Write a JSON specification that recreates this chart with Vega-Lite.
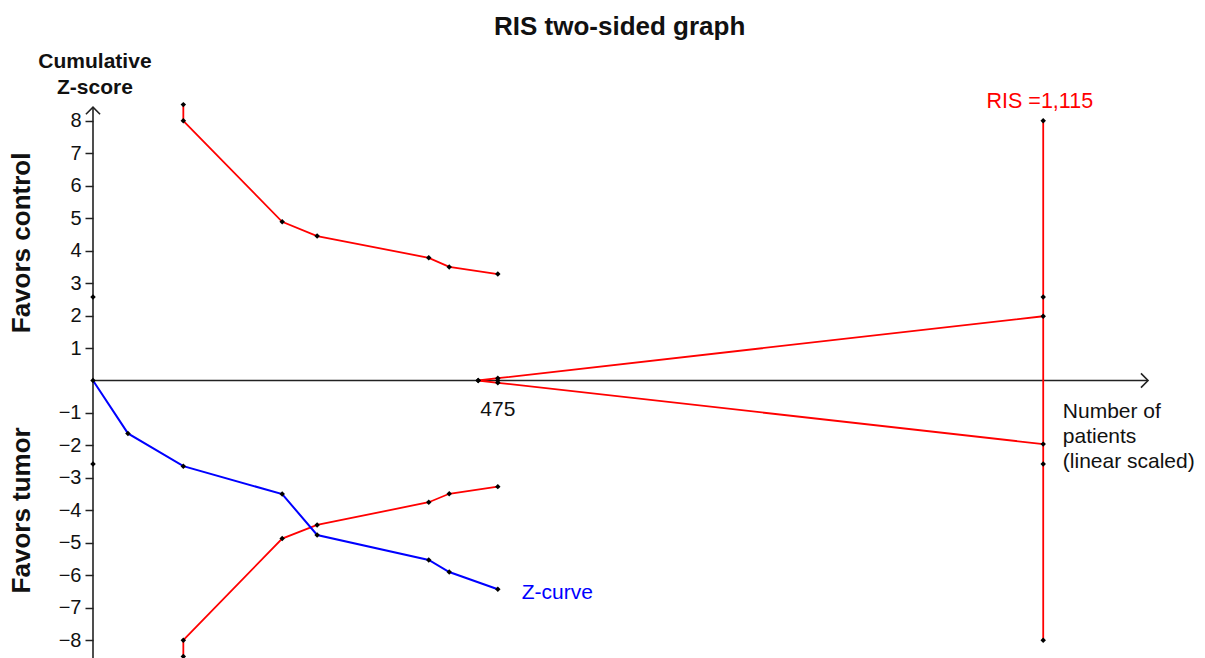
{
  "$schema": "https://vega.github.io/schema/vega-lite/v6.json",
  "width": 1061,
  "height": 555,
  "autosize": {"type": "none"},
  "padding": {"left": 93, "top": 103, "right": 51, "bottom": 0},
  "config": {"view": {"stroke": null}, "font": "Liberation Sans"},
  "datasets": {
    "lines": [
      {"g": "xaxis", "kind": "axis", "i": 0, "n": 0, "z": 0},
      {"g": "xaxis", "kind": "axis", "i": 1, "n": 1238, "z": 0},
      {"g": "yaxis", "kind": "axis", "i": 0, "n": 0, "z": -8.55},
      {"g": "yaxis", "kind": "axis", "i": 1, "n": 0, "z": 8.42},
      {"g": "upper", "kind": "boundary", "i": 0, "n": 106, "z": 8.5},
      {"g": "upper", "kind": "boundary", "i": 1, "n": 106, "z": 8.0},
      {"g": "upper", "kind": "boundary", "i": 2, "n": 222, "z": 4.89},
      {"g": "upper", "kind": "boundary", "i": 3, "n": 263, "z": 4.45},
      {"g": "upper", "kind": "boundary", "i": 4, "n": 394, "z": 3.78},
      {"g": "upper", "kind": "boundary", "i": 5, "n": 418, "z": 3.5},
      {"g": "upper", "kind": "boundary", "i": 6, "n": 475, "z": 3.28},
      {"g": "lower", "kind": "boundary", "i": 0, "n": 106, "z": -8.5},
      {"g": "lower", "kind": "boundary", "i": 1, "n": 106, "z": -8.0},
      {"g": "lower", "kind": "boundary", "i": 2, "n": 222, "z": -4.87},
      {"g": "lower", "kind": "boundary", "i": 3, "n": 263, "z": -4.45},
      {"g": "lower", "kind": "boundary", "i": 4, "n": 394, "z": -3.75},
      {"g": "lower", "kind": "boundary", "i": 5, "n": 418, "z": -3.49},
      {"g": "lower", "kind": "boundary", "i": 6, "n": 475, "z": -3.27},
      {"g": "futup", "kind": "boundary", "i": 0, "n": 452, "z": 0},
      {"g": "futup", "kind": "boundary", "i": 1, "n": 475, "z": 0.07},
      {"g": "futup", "kind": "boundary", "i": 2, "n": 1115, "z": 1.98},
      {"g": "futlo", "kind": "boundary", "i": 0, "n": 452, "z": 0},
      {"g": "futlo", "kind": "boundary", "i": 1, "n": 475, "z": -0.07},
      {"g": "futlo", "kind": "boundary", "i": 2, "n": 1115, "z": -1.96},
      {"g": "ris", "kind": "boundary", "i": 0, "n": 1115, "z": 8.0},
      {"g": "ris", "kind": "boundary", "i": 1, "n": 1115, "z": -8.0},
      {"g": "zc", "kind": "zcurve", "i": 0, "n": 0, "z": 0},
      {"g": "zc", "kind": "zcurve", "i": 1, "n": 41, "z": -1.63},
      {"g": "zc", "kind": "zcurve", "i": 2, "n": 106, "z": -2.64},
      {"g": "zc", "kind": "zcurve", "i": 3, "n": 222, "z": -3.5},
      {"g": "zc", "kind": "zcurve", "i": 4, "n": 263, "z": -4.76},
      {"g": "zc", "kind": "zcurve", "i": 5, "n": 394, "z": -5.53},
      {"g": "zc", "kind": "zcurve", "i": 6, "n": 418, "z": -5.9},
      {"g": "zc", "kind": "zcurve", "i": 7, "n": 475, "z": -6.43}
    ],
    "dots": [
      {"n": 0, "z": 2.57},
      {"n": 0, "z": -2.57},
      {"n": 1115, "z": 2.57},
      {"n": 1115, "z": -2.57},
      {"n": 475, "z": 0}
    ],
    "arrows": [
      {"dir": "right", "n": 1238, "z": 0},
      {"dir": "up", "n": 0, "z": 8.42}
    ],
    "one": [{"k": 1}]
  },
  "encoding": {
    "x": {"type": "quantitative", "scale": {"domain": [0, 1245], "nice": false, "zero": false}, "axis": null},
    "y": {"type": "quantitative", "scale": {"domain": [-8.55, 8.55], "nice": false, "zero": false},
      "axis": {"values": [-8, -7, -6, -5, -4, -3, -2, -1, 1, 2, 3, 4, 5, 6, 7, 8], "domain": false, "grid": false, "title": null, "labelOverlap": false,
        "tickColor": "#222", "tickSize": 8, "tickWidth": 1.5, "labelFontSize": 20, "labelColor": "#111", "labelPadding": 4, "labelFont": "Liberation Sans",
        "labelExpr": "datum.value < 0 ? '\u2212' + abs(datum.value) : datum.label"}}
  },
  "layer": [
    {
      "data": {"name": "lines"},
      "mark": {"type": "line"},
      "encoding": {
        "x": {"field": "n", "type": "quantitative"},
        "y": {"field": "z", "type": "quantitative"},
        "detail": {"field": "g"},
        "order": {"field": "i", "type": "quantitative"},
        "color": {"field": "kind", "type": "nominal", "scale": {"domain": ["axis", "boundary", "zcurve"], "range": ["#222222", "#ff0000", "#0000ff"]}, "legend": null},
        "strokeWidth": {"field": "kind", "type": "nominal", "scale": {"domain": ["axis", "boundary", "zcurve"], "range": [1.6, 2, 2]}, "legend": null}
      }
    },
    {
      "data": {"name": "lines"},
      "transform": [{"filter": "datum.kind != 'axis'"}],
      "mark": {"type": "point", "filled": true, "color": "#000", "size": 30, "shape": "diamond", "opacity": 1},
      "encoding": {
        "x": {"field": "n", "type": "quantitative"},
        "y": {"field": "z", "type": "quantitative"}
      }
    },
    {
      "data": {"name": "dots"},
      "mark": {"type": "point", "filled": true, "color": "#000", "size": 30, "shape": "diamond", "opacity": 1},
      "encoding": {
        "x": {"field": "n", "type": "quantitative"},
        "y": {"field": "z", "type": "quantitative"}
      }
    },
    {
      "data": {"name": "arrows"},
      "mark": {"type": "point", "filled": false, "color": "#222", "strokeWidth": 1.6, "size": 200, "opacity": 1},
      "encoding": {
        "x": {"field": "n", "type": "quantitative"},
        "y": {"field": "z", "type": "quantitative"},
        "shape": {"field": "dir", "type": "nominal", "scale": {"domain": ["up", "right"], "range": ["M -1 1 L 0 0 L 1 1", "M -1 -1 L 0 0 L -1 1"]}, "legend": null}
      }
    },
    {
      "data": {"name": "one"},
      "mark": {"type": "text", "text": "RIS two-sided graph", "fontSize": 26, "fontWeight": "bold", "font": "Liberation Sans", "align": "center", "baseline": "middle", "color": "#111"},
      "encoding": {"x": {"datum": 618, "type": "quantitative"}, "y": {"datum": 10.9, "type": "quantitative"}}
    },
    {
      "data": {"name": "one"},
      "mark": {"type": "text", "text": ["Cumulative", "Z-score"], "fontSize": 21, "fontWeight": "bold", "font": "Liberation Sans", "align": "center", "baseline": "middle", "lineHeight": 26, "color": "#111"},
      "encoding": {"x": {"datum": 2.3, "type": "quantitative"}, "y": {"datum": 9.82, "type": "quantitative"}}
    },
    {
      "data": {"name": "one"},
      "mark": {"type": "text", "text": "Favors control", "fontSize": 26, "fontWeight": "bold", "font": "Liberation Sans", "align": "center", "baseline": "middle", "angle": 270, "color": "#111"},
      "encoding": {"x": {"datum": -83, "type": "quantitative"}, "y": {"datum": 4.24, "type": "quantitative"}}
    },
    {
      "data": {"name": "one"},
      "mark": {"type": "text", "text": "Favors tumor", "fontSize": 26, "fontWeight": "bold", "font": "Liberation Sans", "align": "center", "baseline": "middle", "angle": 270, "color": "#111"},
      "encoding": {"x": {"datum": -83, "type": "quantitative"}, "y": {"datum": -4.0, "type": "quantitative"}}
    },
    {
      "data": {"name": "one"},
      "mark": {"type": "text", "text": "RIS =1,115", "fontSize": 21.5, "font": "Liberation Sans", "align": "center", "baseline": "middle", "color": "#ff0000"},
      "encoding": {"x": {"datum": 1111, "type": "quantitative"}, "y": {"datum": 8.58, "type": "quantitative"}}
    },
    {
      "data": {"name": "one"},
      "mark": {"type": "text", "text": ["Number of", "patients", "(linear scaled)"], "fontSize": 21, "font": "Liberation Sans", "align": "left", "baseline": "middle", "lineHeight": 25, "color": "#111"},
      "encoding": {"x": {"datum": 1138, "type": "quantitative"}, "y": {"datum": -0.97, "type": "quantitative"}}
    },
    {
      "data": {"name": "one"},
      "mark": {"type": "text", "text": "475", "fontSize": 21, "font": "Liberation Sans", "align": "center", "baseline": "middle", "color": "#111"},
      "encoding": {"x": {"datum": 475, "type": "quantitative"}, "y": {"datum": -0.91, "type": "quantitative"}}
    },
    {
      "data": {"name": "one"},
      "mark": {"type": "text", "text": "Z-curve", "fontSize": 21, "font": "Liberation Sans", "align": "left", "baseline": "middle", "color": "#0000ff"},
      "encoding": {"x": {"datum": 503, "type": "quantitative"}, "y": {"datum": -6.55, "type": "quantitative"}}
    }
  ]
}
